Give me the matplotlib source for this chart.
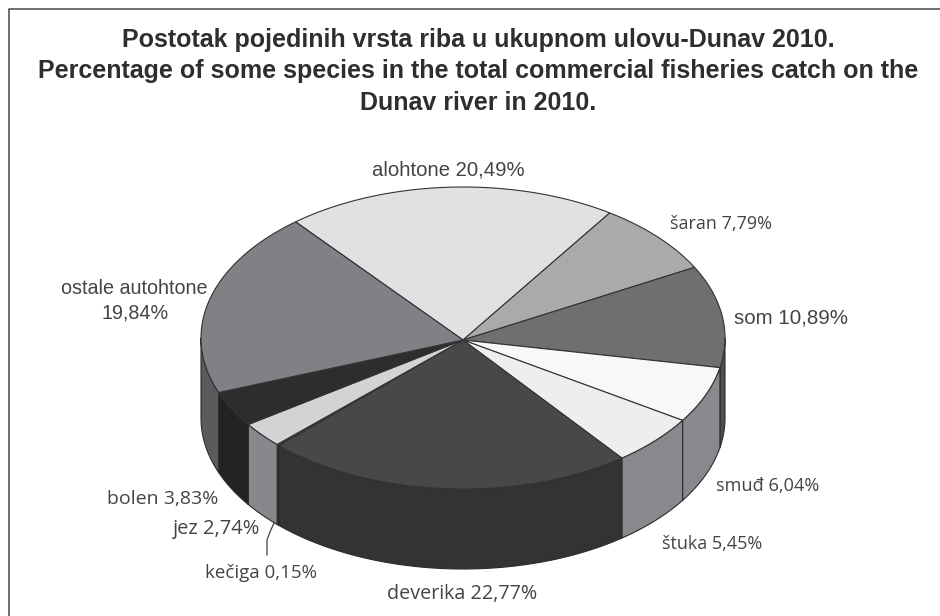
import numpy as np
import matplotlib
matplotlib.use('Agg')
import matplotlib.pyplot as plt
from matplotlib.patches import Polygon

species = ['alohtone', 'šaran', 'som', 'smuđ', 'štuka', 'deverika', 'kečiga', 'jez', 'bolen', 'ostale autohtone']
shares = [20.49, 7.79, 10.89, 6.04, 5.45, 22.77, 0.15, 2.74, 3.83, 19.84]
top_colors = ['#e0e1e3', '#a9aaac', '#6e6f71', '#f8f8f8', '#eeeeef', '#47484a', '#3a3a3c', '#d2d3d5', '#2e2d2e', '#808184']
side_colors = ['#a0a0a0', '#707070', '#4e4f51', '#88898c', '#88898c', '#333335', '#2a2a2c', '#87888b', '#232324', '#5a5b5d']

title_lines = ['Postotak pojedinih vrsta riba u ukupnom ulovu-Dunav 2010.',
               'Percentage of some species in the total commercial fisheries catch on the',
               'Dunav river in 2010.']

cx, cy = 463, 338
rx, ry = 262, 151
depth = 80
apex_y = 340  # the wedges meet a little below the ellipse centre
start = -39.7  # degrees clockwise from the top of the ellipse

fig = plt.figure(figsize=(9.4, 6.16), dpi=100)
ax = fig.add_axes([0, 0, 1, 1])
ax.set_xlim(0, 940)
ax.set_ylim(616, 0)
ax.axis('off')


def rim(a0, a1, dy=0):
    t = np.radians(np.linspace(a0, a1, 80))
    return np.column_stack([cx + rx * np.sin(t), cy - ry * np.cos(t) + dy])


# frame only shows on the top and left, the rest is cropped
ax.plot([940, 9, 9], [9, 9, 616], color='#555555', lw=1.2)

angles = start + np.concatenate([[0], np.cumsum(shares)]) * 3.6

# side walls, only the front half of the disc shows
for i in range(len(shares)):
    a0, a1 = max(angles[i], 90), min(angles[i + 1], 270)
    if a1 <= a0:
        continue
    pts = np.vstack([rim(a0, a1), rim(a1, a0, depth)])
    ax.add_patch(Polygon(pts, fc=side_colors[i], ec='#2c2c2e', lw=0.8, joinstyle='round'))

for i in range(len(shares)):
    pts = np.vstack([[cx, apex_y], rim(angles[i], angles[i + 1])])
    ax.add_patch(Polygon(pts, fc=top_colors[i], ec='#333335', lw=0.8, joinstyle='round'))

# title
for line, y in zip(title_lines, [39.5, 71, 102.5]):
    ax.text(478, y, line, ha='center', va='center', family='Liberation Sans',
            fontweight='bold', fontsize=18, color='#2e2e2e')

# labels
arial = 'Liberation Sans'
myriad = 'Open Sans'
grey = '#444444'
ax.text(448, 170, 'alohtone 20,49%', ha='center', va='center', family=arial, fontsize=14.6, color=grey)
ax.text(721, 224, 'šaran 7,79%', ha='center', va='center', family=myriad, fontsize=13, color=grey)
ax.text(791, 318, 'som 10,89%', ha='center', va='center', family=arial, fontsize=14.8, color=grey)
ax.text(768, 486, 'smuđ 6,04%', ha='center', va='center', family=myriad, fontsize=13.1, color=grey)
ax.text(712, 544, 'štuka 5,45%', ha='center', va='center', family=myriad, fontsize=13, color=grey)
ax.text(462, 594, 'deverika 22,77%', ha='center', va='center', family=myriad, fontsize=14.2, color=grey)
ax.text(134.5, 288, 'ostale autohtone', ha='center', va='center', family=arial, fontsize=14.2, color=grey)
ax.text(135, 313, '19,84%', ha='center', va='center', family=arial, fontsize=14.2, color=grey)
ax.text(162.5, 499, 'bolen 3,83%', ha='center', va='center', family=myriad, fontsize=14, color=grey)
ax.text(216, 529, 'jez 2,74%', ha='center', va='center', family=myriad, fontsize=14.5, color=grey)
ax.text(261, 573, 'kečiga 0,15%', ha='center', va='center', family=myriad, fontsize=13.5, color=grey)

# leader for kečiga
ax.plot([274, 270, 267, 267], [523, 532, 540, 555], color='#444444', lw=0.9)

fig.savefig('out.png', dpi=100)
